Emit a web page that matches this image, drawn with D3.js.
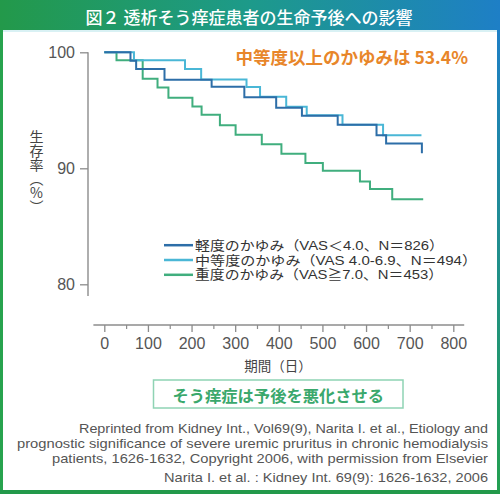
<!DOCTYPE html>
<html><head><meta charset="utf-8">
<script src="https://cdn.jsdelivr.net/npm/d3@7"></script>
<style>body{margin:0;background:#fff}svg{display:block}</style>
</head><body>
<svg id="c" width="500" height="494"></svg>
<script>
// ---- data ----
const titleText = "図２ 透析そう痒症患者の生命予後への影響";
const annotationText = "中等度以上のかゆみは 53.4%";
const calloutText = "そう痒症は予後を悪化させる";
const xTicks = [0,100,200,300,400,500,600,700,800];
const xMinorTicks = [50,150,250,350,450,550,650,750];
const yTicks = [80,90,100];
const xLabel = "期間（日）";
const yLabel = "生存率（%）";
const seriesNames = ["軽度のかゆみ（VAS＜4.0、N＝826）","中等度のかゆみ（VAS 4.0-6.9、N＝494）","重度のかゆみ（VAS≧7.0、N＝453）"];
const mildDays = [0,60,73,138,246,321,394,453,535,624,646,728];
const mildVals = [100,99.28,98.55,97.63,97.03,96.12,95.23,94.53,93.75,92.84,92.13,91.29];
const modDays = [0,68,185,222,326,357,417,464,546,639,727];
const modVals = [100,99.31,98.55,97.65,97.0,96.16,95.30,94.57,93.75,92.84,92.84];
const sevDays = [0,28,88,122,147,202,223,265,301,361,406,461,501,586,609,660,731];
const sevVals = [100,99.31,97.73,96.97,96.08,95.33,94.61,93.71,92.89,92.07,91.25,90.45,89.78,88.86,88.21,87.34,87.34];
const citation = [
 "Reprinted from Kidney Int., Vol69(9), Narita I. et al., Etiology and",
 "prognostic significance of severe uremic pruritus in chronic hemodialysis",
 "patients, 1626-1632, Copyright 2006, with permission from Elsevier",
 "Narita I. et al. : Kidney Int. 69(9): 1626-1632, 2006"
];
const colors = ["#2d6ea8","#4ab7d6","#40ae7e"];

// ---- drawing ----
const svg = d3.select("#c");
const jp = "'Noto Sans CJK JP','Noto Sans',sans-serif";
const num = "'Liberation Sans','DejaVu Sans',sans-serif";
const mixed = "'Liberation Sans','Noto Sans CJK JP',sans-serif";
const defs = svg.append("defs");
const g1 = defs.append("linearGradient").attr("id","tg").attr("x1","0").attr("x2","1").attr("y1","0").attr("y2","0");
g1.append("stop").attr("offset","0").attr("stop-color","#23994a");
g1.append("stop").attr("offset","0.5").attr("stop-color","#1d9a8a");
g1.append("stop").attr("offset","1").attr("stop-color","#1e7fc6");
const g2 = defs.append("linearGradient").attr("id","rg").attr("x1","0").attr("x2","0").attr("y1","0").attr("y2","1");
g2.append("stop").attr("offset","0").attr("stop-color","#1e7fc6");
g2.append("stop").attr("offset","1").attr("stop-color","#23a050");

svg.append("rect").attr("x",0).attr("y",0).attr("width",500).attr("height",30).attr("fill","url(#tg)");
svg.append("rect").attr("x",0).attr("y",30).attr("width",500).attr("height",2).attr("fill","#d9f1f4");
svg.append("rect").attr("x",0).attr("y",30).attr("width",3).attr("height",464).attr("fill","#28a34e");
svg.append("rect").attr("x",497).attr("y",30).attr("width",3).attr("height",464).attr("fill","url(#rg)");
svg.append("rect").attr("x",0).attr("y",490).attr("width",500).attr("height",4).attr("fill","#23994a");

svg.append("text").attr("x",249).attr("y",16).attr("text-anchor","middle").attr("dominant-baseline","central")
  .attr("fill","#fff").attr("font-family",jp).attr("font-size",17).attr("font-weight",500).text(titleText);

const x = d3.scaleLinear().domain([0,800]).range([104.3,453.3]);
const y = d3.scaleLinear().domain([80,100]).range([284.3,52.3]);
const axisColor = "#8c8c8c", labelColor = "#555";

// x axis
const xa = svg.append("g").attr("transform",`translate(0,${325})`);
xa.append("line").attr("x1",x(-25)).attr("x2",x(825)).attr("stroke",axisColor).attr("stroke-width",1.4);
xa.call(g=>{
  const ax = d3.axisBottom(x).tickValues(xTicks).tickSize(7).tickPadding(6).tickFormat(d3.format("d"));
  const gg = g.append("g").call(ax);
  gg.select(".domain").remove();
  gg.selectAll("line").attr("stroke",axisColor).attr("stroke-width",1.3);
  gg.selectAll("text").attr("fill",labelColor).attr("font-family",num).attr("font-size",16);
  const mn = g.append("g").call(d3.axisBottom(x).tickValues(xMinorTicks).tickSize(4).tickFormat(""));
  mn.select(".domain").remove();
  mn.selectAll("line").attr("stroke",axisColor).attr("stroke-width",1.2);
});
svg.append("text").attr("x",278).attr("y",365).attr("text-anchor","middle").attr("dominant-baseline","central")
  .attr("fill","#444").attr("font-family",jp).attr("font-size",13.5).text(xLabel);

// y axis
const ya = svg.append("g").attr("transform","translate(88,0)");
ya.append("line").attr("y1",y(100)).attr("y2",y(79)).attr("stroke",axisColor).attr("stroke-width",1.4);
const yg = ya.append("g").call(d3.axisLeft(y).tickValues(yTicks).tickSize(8).tickPadding(5));
yg.select(".domain").remove();
yg.selectAll("line").attr("stroke",axisColor).attr("stroke-width",1.3);
yg.selectAll("text").attr("fill",labelColor).attr("font-family",num).attr("font-size",16);

svg.append("text").attr("x",36.5).attr("y",129.5)
  .style("writing-mode","vertical-rl").style("text-orientation","upright")
  .attr("fill","#444").attr("font-family",jp).attr("font-size",14).text(yLabel);

// curves
const line = d3.line().x(d=>x(d[0])).y(d=>y(d[1])).curve(d3.curveStepAfter);
const series = [
  {days:sevDays, vals:sevVals, c:colors[2]},
  {days:modDays, vals:modVals, c:colors[1]},
  {days:mildDays, vals:mildVals, c:colors[0]}
];
series.forEach(s=>{
  svg.append("path").attr("d",line(s.days.map((d,i)=>[d,s.vals[i]])))
    .attr("fill","none").attr("stroke",s.c).attr("stroke-width",2);
});

// annotation
svg.append("text").attr("x",468).attr("y",56.5).attr("text-anchor","end").attr("dominant-baseline","central")
  .attr("fill","#e8862a").attr("font-family",jp).attr("font-size",17.5).attr("font-weight",700).text(annotationText);

// legend
const legY = [245.2,260,274.8];
const legW = [249,282,248];
seriesNames.forEach((n,i)=>{
  svg.append("line").attr("x1",164).attr("x2",193).attr("y1",legY[i]).attr("y2",legY[i]).attr("stroke",colors[i]).attr("stroke-width",2.5);
});
const lt = svg.append("text").attr("fill","#333").attr("font-family",mixed).attr("font-size",13);
seriesNames.forEach((n,i)=>{
  lt.append("tspan").attr("x",195).attr("y",legY[i]).attr("dominant-baseline","central")
    .attr("textLength",legW[i]).attr("lengthAdjust","spacingAndGlyphs").text(n);
});

// callout
svg.append("rect").attr("x",153.5).attr("y",380).attr("width",249.5).attr("height",28).attr("fill","#fff")
  .attr("stroke","#8fd3b4").attr("stroke-width",1.5);
svg.append("text").attr("x",278.3).attr("y",394.5).attr("text-anchor","middle").attr("dominant-baseline","central")
  .attr("fill","#3aa86c").attr("font-family",jp).attr("font-size",16.3).attr("font-weight",700).text(calloutText);

// citation
const cy = [428,443,458,477];
const cx0 = [79,17,52,164];
citation.forEach((t,i)=>{
  svg.append("text").attr("x",cx0[i]).attr("y",cy[i]).attr("dominant-baseline","central")
    .attr("fill","#555").attr("font-family",num).attr("font-size",13)
    .attr("textLength",488-cx0[i]).attr("lengthAdjust","spacingAndGlyphs").text(t);
});
</script>
</body></html>
